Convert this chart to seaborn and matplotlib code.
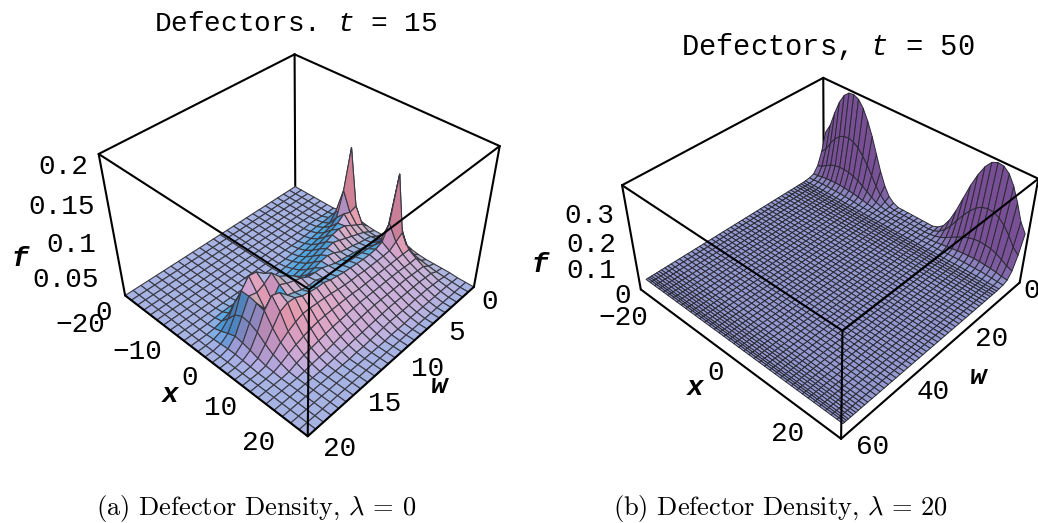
import numpy as np
import matplotlib
matplotlib.use("Agg")
import matplotlib.pyplot as plt
from matplotlib.transforms import Affine2D
import seaborn as sns

# ---- data (f values in thousandths) ----
w_left = np.arange(26) * 0.8
x_left = -20 + np.arange(26) * 1.6
f_left_rows = [
    [0]*7 + [3,6,12,4,2,1,1,1,3,8,4,2,1,1,1,1,0,0,0],
    [0]*7 + [2,14,118,35,12,6,5,6,12,45,18,10,7,5,3,2,1,0,0],
    [0]*7 + [4,20,60,32,18,12,12,14,25,125,45,25,18,12,8,4,2,0,0],
    [0]*6 + [1,3,8,24,36,24,16,14,16,25,60,38,25,18,13,9,5,2,0,0],
    [0]*6 + [1,3,8,16,28,30,20,16,18,26,38,31,25,19,14,10,6,2,0,0],
    [0]*7 + [2,6,13,24,32,24,19,20,28,34,30,25,20,15,10,6,2,0,0],
    [0]*7 + [1,4,10,20,30,28,21,22,29,33,30,25,20,15,10,6,2,0,0],
    [0]*8 + [3,8,16,26,32,24,24,30,33,30,25,20,15,10,5,2,0,0],
    [0]*8 + [2,6,13,22,30,30,26,31,34,30,25,20,15,10,5,2,0,0],
    [0]*8 + [1,4,10,18,27,33,28,32,35,31,25,20,15,10,5,1,0,0],
    [0]*9 + [3,8,14,23,32,32,33,36,31,25,20,15,9,5,1,0,0],
    [0]*9 + [2,6,11,19,29,36,34,38,32,26,20,14,8,4,1,0,0],
    [0]*9 + [1,4,9,16,26,37,36,40,33,26,19,13,7,3,0,0,0],
    [0]*9 + [1,3,7,13,22,38,40,44,35,26,18,12,6,2,0,0,0],
    [0]*9 + [0,2,8,20,40,44,40,44,36,26,17,11,5,1,0,0,0],
    [0]*9 + [1,3,12,32,48,48,42,46,37,26,16,9,4,1,0,0,0],
    [0]*9 + [1,4,18,45,55,52,46,48,38,25,14,7,3,0,0,0,0],
    [0]*9 + [2,6,28,60,68,58,50,54,38,23,12,5,2,0,0,0,0],
    [0]*9 + [2,8,38,70,60,42,62,55,34,20,10,4,1,0,0,0,0],
    [0]*9 + [2,10,42,72,55,38,66,50,28,16,8,3,0,0,0,0,0],
    [0]*9 + [2,8,34,58,58,55,52,34,20,11,5,1,0,0,0,0,0],
    [0]*9 + [1,4,16,30,36,34,28,18,10,5,1,0,0,0,0,0,0],
    [0]*9 + [0,1,5,10,14,12,9,5,2,1,0,0,0,0,0,0,0],
    [0]*11 + [1,2,3,3,2,1,0,0,0,0,0,0,0,0,0],
    [0]*26, [0]*26,
]
w_right = np.cumsum([0, 1.5, 1.5, 1.5, 1.5, 1.5] + [0.8]*4 + [1.0]*4 + [1.2]*30 + [0.9]*3 + [0.7]*4 + [0.5]*3)
x_right = -19.5 + np.arange(40) * 1.0
peak_rows = [
    [170,210,275,330,368,387,390,380,352,308,253,187,121,66,28,9],
    [92,115,152,182,202,213,215,209,194,169,139,103,66,36,15,4],
    [37,46,60,73,81,85,86,84,77,68,55,41,26,14,6,2],
    [10,13,18,21,23,25,25,24,22,20,16,12,8,4,2,1],
    [3,4,6,7,8,8,8,8,7,6,5,3,2,1,1,0],
    [1,1,1,2,2,2,2,2,2,1,1,1,1,0,0,0],
]
f_right = np.zeros((len(w_right), 40))
for i, row in enumerate(peak_rows):
    f_right[i, :16] = row
    f_right[i, 24:] = row[::-1]
f_right = f_right / 1000.0
f_left = np.array(f_left_rows) / 1000.0

x_ticks_left = [-20, -10, 0, 10, 20]
w_ticks_left = [0, 5, 10, 15, 20]
f_ticks_left = [0, 0.05, 0.1, 0.15, 0.2]
f_ticklabels_left = ["0", "0.05", "0.1", "0.15", "0.2"]
x_ticks_right = [-20, 0, 20]
w_ticks_right = [0, 20, 40, 60]
f_ticks_right = [0, 0.1, 0.2, 0.3]
f_ticklabels_right = ["0", "0.1", "0.2", "0.3"]

sns.set_theme(style="white")
MONO = "Liberation Mono"
plt.rcParams.update({
    "mathtext.fontset": "custom",
    "mathtext.it": "Liberation Mono:italic",
    "mathtext.rm": "Liberation Mono",
    "mathtext.bf": "Liberation Mono:bold",
})


def unit(v):
    v = np.array(v, float)
    return v / np.linalg.norm(v)


def lit_colors(X, Y, Z, lims, box, elev, azim, purple=False):
    P = np.stack([(X - lims[0]) / (lims[1] - lims[0]) * box[0],
                  (Y - lims[2]) / (lims[3] - lims[2]) * box[1],
                  (Z - lims[4]) / (lims[5] - lims[4]) * box[2]], axis=-1)
    n = np.cross(P[1:, 1:] - P[:-1, :-1], P[:-1, 1:] - P[1:, :-1])
    n /= np.linalg.norm(n, axis=-1, keepdims=True)
    el, az = np.radians(elev), np.radians(azim)
    c = np.array([np.cos(el)*np.cos(az), np.cos(el)*np.sin(az), np.sin(el)])
    r = np.array([-np.sin(az), np.cos(az), 0.0])
    u = np.cross(c, r)
    nv = np.stack([n @ r, n @ u, n @ c], axis=-1)
    nv[nv[..., 2] < 0] *= -1
    if purple:
        up = np.abs(n[..., 2] * n[..., 2])
        base = np.array([0.58, 0.60, 0.82])
        wall = np.array([0.47, 0.30, 0.58])
        rgb = up[..., None] * base + (1 - up[..., None]) * wall
        return np.dstack([rgb, np.ones(rgb.shape[:2])])
    dark = np.clip(nv[..., 2] / 0.15, 0, 1)
    dr = np.clip(nv @ unit([1, 0, 1]), 0, 1)
    R = np.minimum(0.30 + 0.9 * dr, 0.45 + 0.45 * dr) * dark
    G = (0.46 + 0.25 * np.clip(nv @ unit([0.3, 1, 0.7]), 0, 1)) * dark
    B = 0.50 + 0.40 * np.clip(nv @ unit([-0.2, 0.8, 0.8]), 0, 1)
    rgb = np.clip(np.stack([R, G, B], axis=-1), 0, 1)
    return np.dstack([rgb, np.ones(rgb.shape[:2])])


def shift(artist, ax, dx, dy):
    offset = Affine2D().translate(dx, dy)
    artist.get_transform = lambda: ax.transData + offset


def panel(fig, rect, w, x, f, lims, box, elev, azim, focal, zoom, wt, xt, ft, ftl,
          lw_mesh, mesh_col, purple, pad, offsets):
    ax = fig.add_axes(rect, projection="3d", computed_zorder=False)
    ax.set_facecolor("none")
    ax.set_proj_type("persp", focal_length=focal)
    ax.view_init(elev=elev, azim=azim)
    ax.set_box_aspect(box, zoom=zoom)
    ax.set_xlim(lims[0], lims[1], view_margin=0)
    ax.set_ylim(lims[2], lims[3], view_margin=0)
    ax.set_zlim(lims[4], lims[5], view_margin=0)
    W, X = np.meshgrid(w, x, indexing="ij")
    cols = lit_colors(W, X, f, lims, box, elev, azim, purple)
    ax.plot_surface(W, X, f, facecolors=cols, rstride=1, cstride=1, shade=False,
                    edgecolor=mesh_col, linewidth=lw_mesh, antialiased=True, zorder=2)
    a0, a1, b0, b1, c0, c1 = lims
    k = dict(color="black", lw=1.5, solid_capstyle="round")
    ax.plot([a0, a0], [b0, b0], [c0, c1], zorder=1, **k)
    for pa, pb, pc in [([a0, a1], [b0, b0], [c1, c1]), ([a0, a0], [b0, b1], [c1, c1]),
                       ([a1, a1], [b0, b1], [c1, c1]), ([a0, a1], [b1, b1], [c1, c1]),
                       ([a1, a1], [b1, b1], [c0, c1]), ([a1, a1], [b0, b0], [c0, c1]),
                       ([a0, a0], [b1, b1], [c0, c1]),
                       ([a1, a1], [b0, b1], [c0, c0]), ([a0, a1], [b1, b1], [c0, c0])]:
        ax.plot(pa, pb, pc, zorder=3, **k)
    for axis in (ax.xaxis, ax.yaxis, ax.zaxis):
        axis.set_pane_color((1, 1, 1, 0))
        axis.pane.set_edgecolor((1, 1, 1, 0))
        axis.line.set_color((1, 1, 1, 0))
        axis._axinfo["tick"]["inward_factor"] = 0
        axis._axinfo["tick"]["outward_factor"] = 0
        axis._axinfo["grid"]["linewidth"] = 0
    ax.grid(False)
    ax.set_xticks(wt, [str(v) for v in wt])
    ax.set_yticks(xt, [str(v).replace("-", "\u2212") for v in xt])
    ax.set_zticks(ft, ftl)
    for axis, off in zip((ax.xaxis, ax.yaxis, ax.zaxis), offsets):
        axis.set_tick_params(pad=pad, labelsize=20)
        for t, (dx, dy) in zip(axis.get_ticklabels(), off[:-1]):
            t.set_fontfamily(MONO)
            t.set_color("black")
            shift(t, ax, dx, dy)
    for t in ax.zaxis.get_ticklabels():
        t.set_ha("right")
    for axis, txt, off in zip((ax.xaxis, ax.yaxis, ax.zaxis), "wxf", offsets):
        axis.set_rotate_label(False)
        axis.set_label_text(txt, fontfamily=MONO, fontsize=20, fontweight="bold",
                            fontstyle="italic", color="black", rotation=0)
        axis.labelpad = 12
        shift(axis.label, ax, *off[-1])
    return ax


fig = plt.figure(figsize=(10.38, 5.23), dpi=100, facecolor="white")
FW, FH = 1038.0, 523.0
def rect(cx, cy, s):
    return [(cx - s/2)/FW, 1 - (cy + s/2)/FH, s/FW, s/FH]

left_offsets = (
    [(6, 11), (8, 13), (18, 13), (18, 18), (20, 16), (4, 17)],
    [(-35, -3), (-18, 2), (-9, 10), (-25, 17), (-38, 23), (-4, 15)],
    [(6, -4), (0, -3), (4, -2), (11, 0), (12, 0), (-24, -28)],
)
right_offsets = (
    [(0, 17), (13, 17), (15, 17), (22, 23), (0, 23)],
    [(-3, 0), (-1, 15), (-38, 37), (5, 20)],
    [(17, 0), (7, 3), (12, 6), (15, 10), (-14, -21)],
)
panel(fig, rect(294, 232, 480), w_left, x_left, f_left, (0, 20, -20, 20, 0, 0.2),
      (1, 1, 0.69), 39.5, 43, 0.32, 0.84, w_ticks_left, x_ticks_left, f_ticks_left,
      f_ticklabels_left, 0.8, "#3a3a44", False, 2, left_offsets)
panel(fig, rect(823, 244, 480), w_right, x_right, f_right, (0, 59, -20, 20, -0.04, 0.40),
      (1, 1, 0.475), 39.5, 43, 0.35, 0.855, w_ticks_right, x_ticks_right, f_ticks_right,
      f_ticklabels_right, 0.7, "#2a2a33", True, 2, right_offsets)

fig.text(296/FW, 1 - 24/FH, r"Defectors. $t$ = 15", family=MONO, fontweight="normal",
         fontsize=20, ha="center", va="center", color="black")
fig.text(828/FW, 1 - 46/FH, r"Defectors, $t$ = 50", family=MONO, fontweight="normal",
         fontsize=20.7, ha="center", va="center", color="black")
fig.text(256/FW, 1 - 509/FH, r"(a) Defector Density, $\lambda$ = 0", family="cmr10",
         fontsize=19, ha="center", va="center", color="black", math_fontfamily="cm")
fig.text(781/FW, 1 - 509/FH, r"(b) Defector Density, $\lambda$ = 20", family="cmr10",
         fontsize=19, ha="center", va="center", color="black", math_fontfamily="cm")
fig.savefig("out.png", dpi=100, facecolor="white")
